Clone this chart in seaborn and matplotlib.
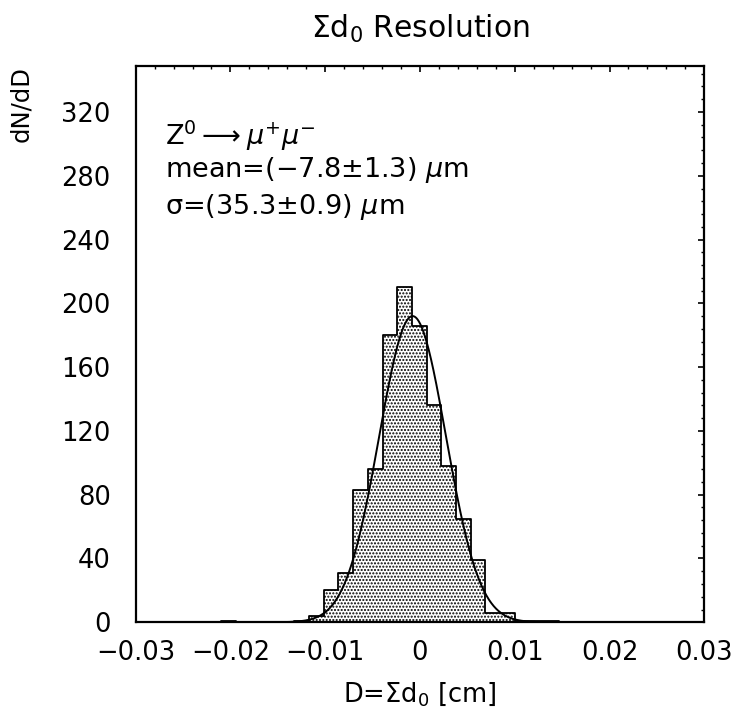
import numpy as np
import pandas as pd
import matplotlib
matplotlib.use("Agg")
import matplotlib.pyplot as plt
import seaborn as sns
from matplotlib.ticker import FixedLocator, FixedFormatter, MultipleLocator

# ---- data ----
bin_start = -0.0210
bin_width = 0.00155
counts = [1, 0, 0, 0, 0, 1, 4, 20, 31, 83, 96, 180, 210, 186, 136, 98, 65, 39, 6, 6, 1, 1, 1]

fit_mean = -0.00078      # cm  (-7.8 um)
fit_sigma = 0.00353      # cm  (35.3 um)
fit_amp = 192.0

x_ticks = [-0.03, -0.02, -0.01, 0.0, 0.01, 0.02, 0.03]
x_tick_labels = ["\u22120.03", "\u22120.02", "\u22120.01", "0", "0.01", "0.02", "0.03"]
y_ticks = [0, 40, 80, 120, 160, 200, 240, 280, 320]
y_tick_labels = ["0", "40", "80", "120", "160", "200", "240", "280", "320"]

title = r"$\Sigma$d$_0$ Resolution"
x_label = r"D=$\Sigma$d$_0$ [cm]"
y_label = "dN/dD"
info_lines = [r"Z$^0$$\longrightarrow$$\mu^{+}\mu^{-}$",
              "mean=(\u22127.8\u00b11.3) $\\mu$m",
              "\u03c3=(35.3\u00b10.9) $\\mu$m"]

# ---- build ----
edges = [bin_start + bin_width * k for k in range(len(counts) + 1)]
centers = [0.5 * (edges[k] + edges[k + 1]) for k in range(len(counts))]
df = pd.DataFrame({"D": centers, "n": counts})

sns.set_theme(style="white")
plt.rcParams["font.family"] = ["DejaVu Sans"]
plt.rcParams["mathtext.fontset"] = "dejavusans"
plt.rcParams["hatch.linewidth"] = 1.0
plt.rcParams["hatch.color"] = "#333333"
for k in ["text.color", "axes.labelcolor", "xtick.color", "ytick.color", "axes.edgecolor"]:
    plt.rcParams[k] = "black"

fig = plt.figure(figsize=(7.37, 7.16), dpi=100)
ax = fig.add_axes([0.1841, 0.1309, 0.9556 - 0.1841, 0.9082 - 0.1309])

sns.histplot(data=df, x="D", weights="n", bins=edges, element="step", fill=True,
             facecolor="white", edgecolor="black", linewidth=1.3, alpha=1,
             hatch=".....", ax=ax)

xs = np.linspace(-0.03, 0.03, 1200)
ys = fit_amp * np.exp(-0.5 * ((xs - fit_mean) / fit_sigma) ** 2)
sns.lineplot(x=xs, y=ys, color="black", linewidth=1.4, ax=ax)

ax.set_xlim(-0.03, 0.03)
ax.set_ylim(0, 349)

ax.xaxis.set_major_locator(FixedLocator(x_ticks))
ax.xaxis.set_major_formatter(FixedFormatter(x_tick_labels))
ax.xaxis.set_minor_locator(MultipleLocator(0.002))
ax.yaxis.set_major_locator(FixedLocator(y_ticks))
ax.yaxis.set_major_formatter(FixedFormatter(y_tick_labels))
ax.yaxis.set_minor_locator(MultipleLocator(8))

ax.tick_params(which="both", direction="in", top=True, right=True, color="black")
ax.tick_params(which="major", length=4.5, width=1.2, labelsize=18.5, labelcolor="black")
ax.tick_params(which="minor", length=2.3, width=1.0)
ax.tick_params(axis="x", which="major", pad=13)
ax.tick_params(axis="y", which="major", pad=18)

for s in ax.spines.values():
    s.set_color("black")
    s.set_linewidth(1.6)

ax.set_title(title, fontsize=21.5, pad=20, color="black")
ax.set_xlabel(x_label, fontsize=18.5, labelpad=10)
ax.set_ylabel(y_label, fontsize=17.5, loc="top", labelpad=20)

y0 = 0.905
for i, t in enumerate(info_lines):
    ax.text(0.052, y0 - i * 0.066, t, transform=ax.transAxes, fontsize=19.5,
            ha="left", va="top", color="black")

fig.savefig("out.png", dpi=100)
